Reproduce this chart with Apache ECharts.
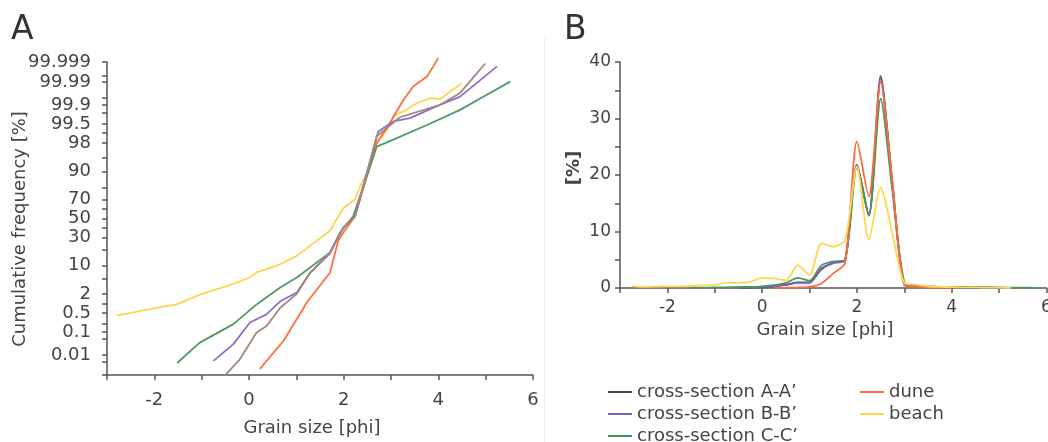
<!DOCTYPE html>
<html>
<head>
<meta charset="utf-8">
<script src="https://cdn.jsdelivr.net/npm/echarts@6/dist/echarts.min.js"></script>
<style>
  html, body { margin: 0; padding: 0; background: #ffffff; }
  #chart { width: 1048px; height: 442px; }
</style>
</head>
<body>
<div id="chart"></div>
<script>
// ---- Series names ----
const NAME_AA = 'cross-section A-A\u2019';
const NAME_BB = 'cross-section B-B\u2019';
const NAME_CC = 'cross-section C-C\u2019';
const NAME_DUNE = 'dune';
const NAME_BEACH = 'beach';

// ---- Panel A: cumulative frequency curves (grain size in phi, cumulative %) ----
const cumPhiAA = [-0.51, -0.19, 0.16, 0.37, 0.66, 1.01, 1.29, 1.71, 1.99, 2.24, 2.49, 2.70, 3.19, 4.04, 4.46, 4.99];
const cumAA    = [0.00093, 0.0064, 0.094, 0.17, 0.75, 2.0, 6.94, 17, 40, 52.4, 89.3, 98.75, 99.71, 99.903, 99.969, 99.9988];

const cumPhiBB = [-0.75, -0.33, 0.02, 0.37, 0.66, 0.87, 1.01, 1.29, 1.71, 1.99, 2.24, 2.49, 2.73, 3.05, 3.40, 3.97, 4.46, 5.24];
const cumBB    = [0.0052, 0.031, 0.23, 0.45, 1.2, 1.74, 2.17, 6.94, 17.6, 40.1, 52.4, 89.3, 99.11, 99.59, 99.69, 99.89, 99.955, 99.9983];

const cumPhiCC = [-1.52, -1.04, -0.33, 0.16, 0.66, 1.01, 1.71, 1.92, 2.2, 2.49, 2.70, 3.05, 3.76, 4.46, 4.95, 5.52];
const cumCC    = [0.0041, 0.036, 0.20, 0.96, 3.0, 5.4, 17.6, 34.8, 52.4, 87.5, 97.5, 98.42, 99.46, 99.846, 99.955, 99.9904];

const cumPhiDune = [0.23, 0.73, 1.14, 1.22, 1.71, 1.89, 1.99, 2.24, 2.49, 2.70, 2.98, 3.26, 3.47, 3.76, 4.0];
const cumDune    = [0.0021, 0.043, 0.68, 1.1, 6.94, 28, 34.8, 52.4, 87.5, 98.03, 99.55, 99.938, 99.984, 99.9946, 99.99938];

const cumPhiBeach = [-2.8, -2.1, -1.53, -1.04, -0.34, 0.02, 0.16, 0.66, 0.87, 1.01, 1.71, 1.99, 2.24, 2.35, 2.49, 2.70, 2.91, 3.05, 3.33, 3.55, 3.83, 4.04, 4.50];
const cumBeach    = [0.41, 0.68, 0.96, 1.9, 3.7, 5.4, 7.1, 10.6, 13.4, 15.4, 37, 61, 70, 81, 89.3, 98.0, 99.2, 99.73, 99.85, 99.916, 99.948, 99.944, 99.9888];

// Probability-axis ticks and labels (%)
const probTicks  = [0.001, 0.005, 0.01, 0.05, 0.1, 0.2, 0.5, 1, 2, 5, 10, 20, 30, 40, 50, 60, 70, 80, 90, 95, 98, 99, 99.5, 99.8, 99.9, 99.95, 99.99, 99.995, 99.999];
const probLabels = [0.01, 0.1, 0.5, 2, 10, 30, 50, 70, 90, 98, 99.5, 99.9, 99.99, 99.999];

// ---- Panel B: frequency distributions (%) ----
const freqPhi = [-2.75, -2.5, -2.25, -2, -1.75, -1.5, -1.25, -1, -0.75, -0.5, -0.25, 0, 0.25, 0.5, 0.75, 1, 1.25, 1.5, 1.75, 2, 2.25, 2.5, 2.75, 3, 3.25, 3.5, 3.75, 4, 4.25, 4.5, 4.75, 5, 5.25, 5.5, 5.75];
const freqBeach = [0.35, 0.2, 0.25, 0.3, 0.3, 0.35, 0.45, 0.55, 0.9, 0.9, 1.1, 1.8, 1.7, 1.3, 4.0, 2.3, 7.9, 7.3, 8.5, 21.5, 8.5, 17.8, 9.5, 0.9, 0.6, 0.3, 0.2, 0.15, 0.1, 0.1, 0.05, 0.05, 0.03, null, null];
const freqDune  = [null, null, null, null, null, null, null, null, null, null, null, null, 0.02, 0.05, 0.1, 0.2, 0.8, 2.6, 4.4, 25.9, 16.2, 36.5, 18.5, 0.5, 0.2, 0.1, 0.05, 0.02, null, null, null, null, null, null, null];
const freqCC    = [null, null, null, null, null, 0.05, 0.05, 0.1, 0.1, 0.15, 0.2, 0.3, 0.5, 0.9, 1.8, 1.3, 4.0, 4.7, 5.0, 21.5, 12.8, 33.5, 17, 1.0, 0.4, 0.3, 0.2, 0.2, 0.2, 0.15, 0.1, 0.1, 0.05, 0.05, 0.03];
const freqBB    = [null, null, null, null, null, null, null, null, 0.05, 0.05, 0.1, 0.2, 0.3, 0.5, 0.9, 0.9, 3.5, 4.4, 4.9, 21.8, 12.8, 37.0, 18, 0.6, 0.3, 0.2, 0.15, 0.1, 0.1, 0.05, 0.05, 0.03, 0.02, null, null];
const freqAA    = [null, null, null, null, null, null, null, null, null, 0.02, 0.05, 0.15, 0.3, 0.6, 1.0, 1.0, 3.3, 4.5, 5.0, 21.8, 12.9, 37.5, 18.5, 0.6, 0.3, 0.2, 0.15, 0.1, 0.1, 0.05, 0.05, 0.02, null, null, null];

// ---- Inverse standard normal CDF (Acklam) for the probability axis ----
function probit(p) {
  const a = [-3.969683028665376e+01, 2.209460984245205e+02, -2.759285104469687e+02, 1.383577518672690e+02, -3.066479806614716e+01, 2.506628277459239e+00];
  const b = [-5.447609879822406e+01, 1.615858368580409e+02, -1.556989798598866e+02, 6.680131188771972e+01, -1.328068155288572e+01];
  const c = [-7.784894002430293e-03, -3.223964580411365e-01, -2.400758277161838e+00, -2.549732539343734e+00, 4.374664141464968e+00, 2.938163982698783e+00];
  const d = [7.784695709041462e-03, 3.224671290700398e-01, 2.445134137142996e+00, 3.754408661907416e+00];
  const pl = 0.02425, ph = 1 - pl;
  let q, r;
  if (p < pl) {
    q = Math.sqrt(-2 * Math.log(p));
    return (((((c[0] * q + c[1]) * q + c[2]) * q + c[3]) * q + c[4]) * q + c[5]) / ((((d[0] * q + d[1]) * q + d[2]) * q + d[3]) * q + 1);
  }
  if (p <= ph) {
    q = p - 0.5; r = q * q;
    return (((((a[0] * r + a[1]) * r + a[2]) * r + a[3]) * r + a[4]) * r + a[5]) * q / (((((b[0] * r + b[1]) * r + b[2]) * r + b[3]) * r + b[4]) * r + 1);
  }
  q = Math.sqrt(-2 * Math.log(1 - p));
  return -(((((c[0] * q + c[1]) * q + c[2]) * q + c[3]) * q + c[4]) * q + c[5]) / ((((d[0] * q + d[1]) * q + d[2]) * q + d[3]) * q + 1);
}
const zOf = pct => probit(pct / 100);

const FONT = 'DejaVu Sans';
const AXIS_COLOR = '#555555';
const TEXT_COLOR = '#444444';

const colorsA = { aa: '#a5877b', bb: '#8b6fc9', cc: '#4e9a62', dune: '#ff6f42', beach: '#ffd54f' };
const colorsB = { aa: '#464a3c', bb: '#7f5fc2', cc: '#4b9660', dune: '#ff6a3c', beach: '#ffd84f' };

const pairs = (xs, ys) => xs.map((x, i) => [x, zOf(ys[i])]);
const rows = (xs, ys) => xs.map((x, i) => [x, ys[i]]);

const axisLineStyle = { color: AXIS_COLOR, width: 1.5 };

function lineA(name, xs, ys, color) {
  return {
    name, type: 'line', xAxisIndex: 0, yAxisIndex: 0,
    data: pairs(xs, ys), symbol: 'none', clip: false,
    lineStyle: { color, width: 1.8 }, itemStyle: { color }
  };
}
function lineB(name, ys, color) {
  return {
    name, type: 'line', xAxisIndex: 1, yAxisIndex: 1,
    data: rows(freqPhi, ys), symbol: 'none', smooth: 0.25,
    connectNulls: false,
    lineStyle: { color, width: 1.8 }, itemStyle: { color }
  };
}

const chart = echarts.init(document.getElementById('chart'), null, { renderer: 'canvas' });

const legendCommon = {
  orient: 'vertical', top: 381, height: 90, itemWidth: 24, itemHeight: 2, itemGap: 0,
  icon: 'rect', selectedMode: false, padding: 0,
  textStyle: { fontFamily: FONT, fontSize: 18, lineHeight: 22, color: TEXT_COLOR }
};

chart.setOption({
  animation: false,
  backgroundColor: '#ffffff',
  grid: [
    { left: 107, top: 62, width: 426, height: 313, outerBoundsMode: 'none' },
    { left: 620, top: 62, width: 426.5, height: 226, outerBoundsMode: 'none' }
  ],
  xAxis: [
    {
      gridIndex: 0, type: 'value', min: -3, max: 6, interval: 1,
      axisLine: { show: true, onZero: false, lineStyle: axisLineStyle },
      axisTick: { show: true, length: 5, lineStyle: axisLineStyle },
      axisLabel: { margin: 16, fontFamily: FONT, fontSize: 18, color: TEXT_COLOR,
        formatter: v => (v % 2 === 0 ? String(v) : '') },
      splitLine: { show: false }
    },
    {
      gridIndex: 1, type: 'value', min: -3, max: 6, interval: 1,
      axisLine: { show: true, onZero: false, lineStyle: axisLineStyle },
      axisTick: { show: true, length: 5, lineStyle: axisLineStyle },
      axisLabel: { margin: 11, fontFamily: FONT, fontSize: 17, color: TEXT_COLOR,
        formatter: v => (v % 2 === 0 ? String(v) : '') },
      splitLine: { show: false }
    }
  ],
  yAxis: [
    {
      gridIndex: 0, type: 'value', min: zOf(0.001), max: zOf(99.999),
      axisLine: { show: true, onZero: false, lineStyle: axisLineStyle },
      axisTick: { show: true, length: 5, lineStyle: axisLineStyle, customValues: probTicks.map(zOf) },
      axisLabel: {
        margin: 16, fontFamily: FONT, fontSize: 18, color: TEXT_COLOR,
        customValues: probLabels.map(zOf),
        formatter: v => {
          const p = probLabels.find(q => Math.abs(zOf(q) - v) < 1e-6);
          return p === undefined ? '' : String(p);
        }
      },
      splitLine: { show: false }
    },
    {
      gridIndex: 1, type: 'value', min: 0, max: 40, interval: 5,
      axisLine: { show: true, onZero: false, lineStyle: axisLineStyle },
      axisTick: { show: true, length: 5, lineStyle: axisLineStyle },
      axisLabel: { margin: 9, fontFamily: FONT, fontSize: 17, color: TEXT_COLOR,
        formatter: v => (v % 10 === 0 ? String(v) : '') },
      splitLine: { show: false }
    }
  ],
  legend: [
    Object.assign({ left: 608, data: [NAME_AA, NAME_BB, NAME_CC] }, legendCommon),
    Object.assign({ left: 860, data: [NAME_DUNE, NAME_BEACH] }, legendCommon)
  ],
  series: [
    // panel B (listed first so the legend takes these colours)
    lineB(NAME_AA, freqAA, colorsB.aa),
    lineB(NAME_BB, freqBB, colorsB.bb),
    lineB(NAME_CC, freqCC, colorsB.cc),
    lineB(NAME_DUNE, freqDune, colorsB.dune),
    lineB(NAME_BEACH, freqBeach, colorsB.beach),
    // panel A
    lineA(NAME_BEACH, cumPhiBeach, cumBeach, colorsA.beach),
    lineA(NAME_DUNE, cumPhiDune, cumDune, colorsA.dune),
    lineA(NAME_CC, cumPhiCC, cumCC, colorsA.cc),
    lineA(NAME_BB, cumPhiBB, cumBB, colorsA.bb),
    lineA(NAME_AA, cumPhiAA, cumAA, colorsA.aa)
  ],
  graphic: [
    { type: 'line', shape: { x1: 544.5, y1: 38, x2: 544.5, y2: 442 }, style: { stroke: '#ebebeb', lineWidth: 1 }, silent: true },
    { type: 'text', left: 11, top: 14, style: { text: 'A', fontFamily: FONT, fontSize: 33, fill: '#333333' } },
    { type: 'text', left: 564, top: 14, style: { text: 'B', fontFamily: FONT, fontSize: 33, fill: '#333333' } },
    { type: 'text', x: 20, y: 229, rotation: Math.PI / 2,
      style: { text: 'Cumulative frequency [%]', fontFamily: FONT, fontSize: 18, fill: TEXT_COLOR, align: 'center', verticalAlign: 'middle' } },
    { type: 'text', x: 312, y: 428,
      style: { text: 'Grain size [phi]', fontFamily: FONT, fontSize: 18, fill: TEXT_COLOR, align: 'center', verticalAlign: 'middle' } },
    { type: 'text', x: 574, y: 168, rotation: Math.PI / 2,
      style: { text: '[%]', fontFamily: FONT, fontSize: 18, fontWeight: 'bold', fill: TEXT_COLOR, align: 'center', verticalAlign: 'middle' } },
    { type: 'text', x: 825, y: 330,
      style: { text: 'Grain size [phi]', fontFamily: FONT, fontSize: 18, fill: TEXT_COLOR, align: 'center', verticalAlign: 'middle' } }
  ]
});
</script>
</body>
</html>
